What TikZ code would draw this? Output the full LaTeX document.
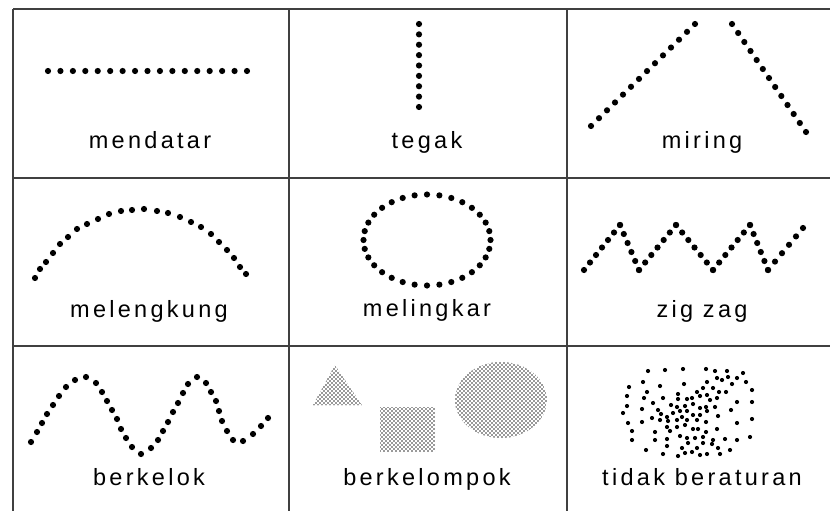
\documentclass[tikz,border=0pt]{standalone}
\usepackage{fontspec}
\setmainfont{Liberation Sans}
\newfontfamily\labelfont{Liberation Sans}[LetterSpace=14]
\usetikzlibrary{patterns}

% Stipple fill for the grouped shapes
\pgfdeclarepatternformonly{stippledots}{\pgfqpoint{-1pt}{-1pt}}{\pgfqpoint{5pt}{5pt}}{\pgfqpoint{4pt}{4pt}}{
  \pgfpathcircle{\pgfqpoint{0pt}{0pt}}{0.8pt}
  \pgfpathcircle{\pgfqpoint{2pt}{2pt}}{0.8pt}
  \pgfusepath{fill}
}

\tikzset{
  bead/.style={fill=black},
  cell label/.style={font=\labelfont\fontsize{23.5}{23.5}\selectfont, anchor=base, inner sep=0pt},
  grid line/.style={black!75, line width=1.3pt},
  stipple/.style={pattern=stippledots, pattern color=black!80}
}

\begin{document}
\begin{tikzpicture}[x=1pt, y=-1pt]
  \useasboundingbox (0,0) rectangle (830,511);

  % Grid
  \foreach \gy in {9,178,346} {
    \draw[grid line] (13,\gy) -- (830,\gy);
  }
  \foreach \gx in {13,289,567} {
    \draw[grid line] (\gx,9) -- (\gx,511);
  }

  % Straight dotted lines (mendatar, tegak, miring, zig zag)
  \foreach \xa/\ya/\xb/\yb/\n in {
    48/71/247/71/16,
    419/24/419/107/8,
    591/126/695/24/13, 732/24/806/132/12,
    584/270/620/225/6, 620/225/639/270/5, 639/270/676/225/6,
    676/225/713/270/6, 713/270/750/225/6, 750/225/768/270/5,
    768/270/803/228/5} {
    \foreach \k in {0,...,\n} {
      \fill[bead] ({\xa+(\xb-\xa)*\k/\n}, {\ya+(\yb-\ya)*\k/\n}) circle (3.1pt);
    }
  }

  % Arc (melengkung)
  \foreach \px/\py in {
    35/278, 40/269, 46/262, 53/253, 60/244, 68/237, 77/229, 87/224,
    98/219, 109/214, 121/211, 132/210, 144/209, 157/211, 168/213, 180/217,
    191/222, 201/227, 211/234, 219/242, 227/250, 234/258, 240/267, 246/274} {
    \fill[bead] (\px,\py) circle (3.1pt);
  }

  % Ring (melingkar)
  \foreach \a in {0,11.25,...,350} {
    \fill[bead] ({427+63.5*cos(\a)}, {240+45.5*sin(\a)}) circle (3.1pt);
  }

  % Wave (berkelok)
  \foreach \px/\py in {
    31/442, 37/432, 42/423, 47/414, 53/405, 59/396, 66/387, 75/380,
    86/377, 96/383, 102/392, 107/401, 112/410, 117/419, 121/429, 126/438,
    132/447, 141/454, 151/448, 158/440, 163/431, 168/422, 173/412, 178/403,
    183/393, 188/384, 197/377, 206/383, 211/392, 216/401, 219/411, 222/421,
    227/431, 233/440, 243/441, 253/434, 261/426, 268/418} {
    \fill[bead] (\px,\py) circle (3.1pt);
  }

  % Stippled shapes (berkelompok)
  \fill[stipple] (335,365) -- (362,405) -- (313,405) -- cycle;
  \fill[stipple] (380,407) rectangle (435,451);
  \fill[stipple] (501,400) ellipse (46pt and 38pt);

  % Scatter (tidak beraturan)
  \foreach \px/\py in {
    648/371, 665/370, 683/369, 706/369, 715/371, 727/371, 743/373,
    643/382, 660/386, 684/384, 707/382, 717/378, 722/380, 728/377, 737/378, 746/382,
    629/387, 647/392, 663/398, 678/394, 697/392, 703/388, 713/388, 719/392, 726/392, 732/384, 752/390,
    627/396, 644/398, 653/403, 678/399, 687/399, 692/398, 700/396, 707/395, 710/400, 717/398, 737/402, 752/402,
    627/406, 642/409, 658/410, 671/405, 677/407, 685/406, 693/404, 700/408, 706/407, 715/407, 731/410,
    623/413, 652/418, 661/414, 667/417, 673/413, 680/411, 687/411, 693/415, 700/415, 707/411, 718/416, 752/419,
    628/423, 642/422, 660/420, 668/421, 677/420, 682/417, 687/420, 697/420, 706/422, 737/423,
    632/431, 655/432, 667/427, 670/431, 677/427, 685/425, 693/429, 698/429, 706/432, 717/429, 750/437,
    632/440, 655/440, 667/439, 680/436, 687/438, 695/438, 703/437, 713/440, 725/439, 737/440,
    646/450, 667/446, 682/448, 688/443, 697/448, 703/443, 712/444, 718/448, 730/450,
    663/454, 678/456, 685/453, 692/452, 700/455, 707/454, 720/454} {
    \fill[bead] (\px,\py) circle (2.1pt);
  }

  % Labels
  \node[cell label] (mendatar) at (150,148) {mendatar};
  \node[cell label] (tegak) at (427,148) {tegak};
  \node[cell label] (miring) at (702,148) {miring};
  \node[cell label] (melengkung) at (149,317) {melengkung};
  \node[cell label] (melingkar) at (427,316) {melingkar};
  \node[cell label] (zigzag) at (702,317) {zig zag};
  \node[cell label] (berkelok) at (149,485) {berkelok};
  \node[cell label] (berkelompok) at (427,485) {berkelompok};
  \node[cell label] (tidak) at (702,485) {tidak beraturan};
\end{tikzpicture}
\end{document}
